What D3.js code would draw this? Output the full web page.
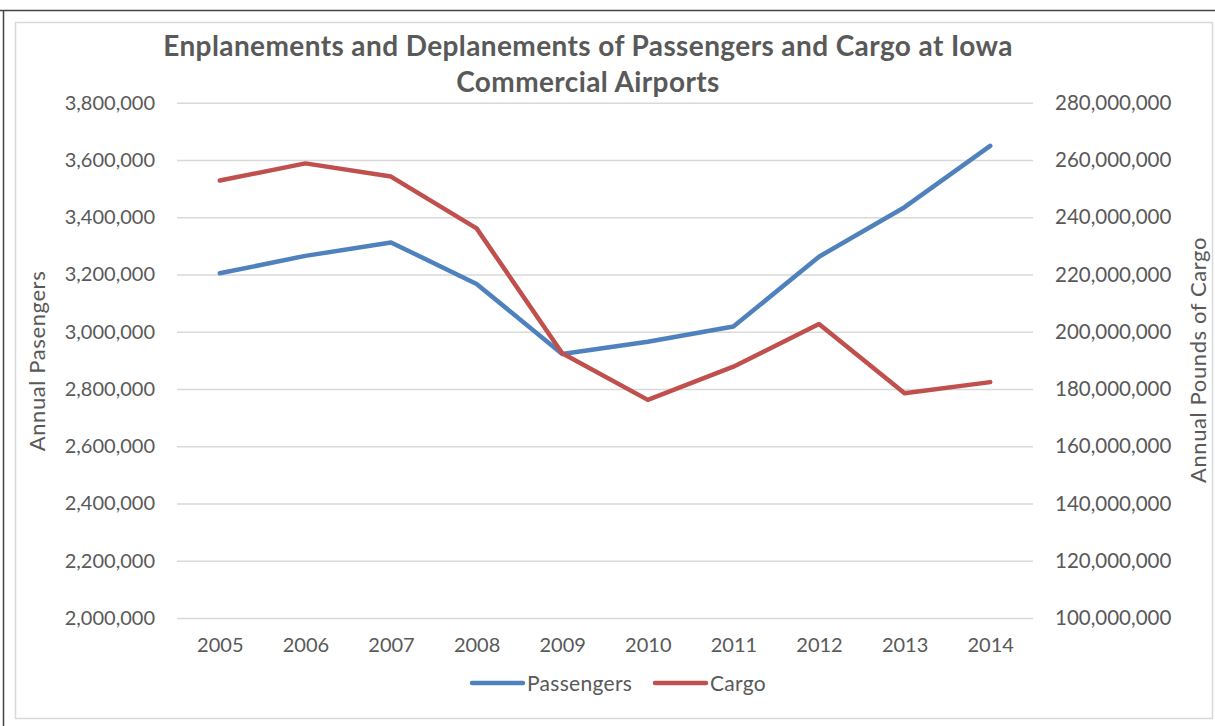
<!DOCTYPE html>
<html>
<head>
<meta charset="utf-8">
<script src="https://cdn.jsdelivr.net/npm/d3@7"></script>
<style>
  body { margin: 0; background: #fff; }
  text { font-family: Lato, "Open Sans", sans-serif; fill: #595959; }
</style>
</head>
<body>
<div id="chart"></div>
<script>
// data
var years = ["2005", "2006", "2007", "2008", "2009", "2010", "2011", "2012", "2013", "2014"];
var passengers = [3204000, 3265000, 3312000, 3167000, 2922000, 2965000, 3018000, 3262000, 3435000, 3649000];
var cargo = [252800000, 258800000, 254200000, 236100000, 192500000, 176200000, 187800000, 202700000, 178500000, 182400000];
var leftTicks = d3.range(2000000, 3800001, 200000);
var rightTicks = d3.range(100000000, 280000001, 20000000);
var titleLines = ["Enplanements and Deplanements of Passengers and Cargo at Iowa", "Commercial Airports"];

var width = 1215, height = 726;
var plot = { left: 177, right: 1033, top: 102.7, bottom: 618 };

var svg = d3.select("#chart")
    .append("svg")
    .attr("width", width)
    .attr("height", height);

svg.append("rect").attr("width", width).attr("height", height).attr("fill", "#fff");

// outer frame (screenshot edges) and chart area border
svg.append("line").attr("x1", 0).attr("x2", width).attr("y1", 10.5).attr("y2", 10.5)
    .attr("stroke", "#444").attr("stroke-width", 1.5);
svg.append("line").attr("x1", 3.5).attr("x2", 3.5).attr("y1", 10).attr("y2", height)
    .attr("stroke", "#444").attr("stroke-width", 1.5);
svg.append("rect")
    .attr("x", 15.5).attr("y", 22.5).attr("width", 1197).attr("height", 696)
    .attr("fill", "none").attr("stroke", "#d9d9d9").attr("stroke-width", 1.5);

var x = d3.scalePoint().domain(years).range([plot.left, plot.right]).padding(0.5);
var yL = d3.scaleLinear().domain([2000000, 3800000]).range([plot.bottom, plot.top]);
var yR = d3.scaleLinear().domain([100000000, 280000000]).range([plot.bottom, plot.top]);
var fmt = d3.format(",");

// left axis + gridlines
var gL = svg.append("g")
    .attr("transform", "translate(" + plot.left + ",0)")
    .call(d3.axisLeft(yL).tickValues(leftTicks).tickFormat(fmt)
        .tickSize(-(plot.right - plot.left)).tickPadding(22));
gL.select(".domain").remove();
gL.selectAll(".tick line").attr("stroke", "#d9d9d9").attr("stroke-width", 1.5);
gL.selectAll(".tick text").style("font-size", "20px").attr("fill", "#595959");

// right axis
var gR = svg.append("g")
    .attr("transform", "translate(" + plot.right + ",0)")
    .call(d3.axisRight(yR).tickValues(rightTicks).tickFormat(fmt).tickSize(0).tickPadding(22));
gR.select(".domain").remove();
gR.selectAll(".tick text").style("font-size", "20.5px").attr("fill", "#595959");

// bottom axis
var gB = svg.append("g")
    .attr("transform", "translate(0," + plot.bottom + ")")
    .call(d3.axisBottom(x).tickSize(0).tickPadding(20));
gB.select(".domain").remove();
gB.selectAll(".tick text").style("font-size", "20px").attr("fill", "#595959");

// lines
var lineL = d3.line().x(function (d, i) { return x(years[i]); }).y(function (d) { return yL(d); });
var lineR = d3.line().x(function (d, i) { return x(years[i]); }).y(function (d) { return yR(d); });

svg.append("path").datum(passengers)
    .attr("d", lineL).attr("fill", "none")
    .attr("stroke", "#4f81bd").attr("stroke-width", 4.5).attr("stroke-linejoin", "round").attr("stroke-linecap", "round");

svg.append("path").datum(cargo)
    .attr("d", lineR).attr("fill", "none")
    .attr("stroke", "#c0504d").attr("stroke-width", 4.5).attr("stroke-linejoin", "round").attr("stroke-linecap", "round");

// title
svg.selectAll("text.title")
    .data(titleLines)
    .enter().append("text")
    .attr("class", "title")
    .attr("x", 588)
    .attr("y", function (d, i) { return 56 + i * 36; })
    .attr("text-anchor", "middle")
    .style("font-size", "28px")
    .style("letter-spacing", "0.4px")
    .style("font-weight", "bold")
    .text(function (d) { return d; });

// axis titles
svg.append("text")
    .attr("transform", "translate(45,361) rotate(-90)")
    .attr("text-anchor", "middle")
    .style("font-size", "22px")
    .style("letter-spacing", "0.6px")
    .text("Annual Pasengers");

svg.append("text")
    .attr("transform", "translate(1206,360) rotate(-90)")
    .attr("text-anchor", "middle")
    .style("font-size", "22px")
    .style("letter-spacing", "0.6px")
    .text("Annual Pounds of Cargo");

// legend
var legendItems = [
    { name: "Passengers", color: "#4f81bd", x: 472 },
    { name: "Cargo", color: "#c0504d", x: 655 }
];
var legend = svg.selectAll("g.legend")
    .data(legendItems)
    .enter().append("g")
    .attr("class", "legend")
    .attr("transform", function (d) { return "translate(" + d.x + ",683)"; });

legend.append("line")
    .attr("x1", 0).attr("x2", 51)
    .attr("stroke", function (d) { return d.color; })
    .attr("stroke-width", 4.5)
    .attr("stroke-linecap", "round");

legend.append("text")
    .attr("x", 55)
    .attr("y", 7.5)
    .style("font-size", "21px")
    .style("letter-spacing", "0.3px")
    .text(function (d) { return d.name; });
</script>
</body>
</html>
